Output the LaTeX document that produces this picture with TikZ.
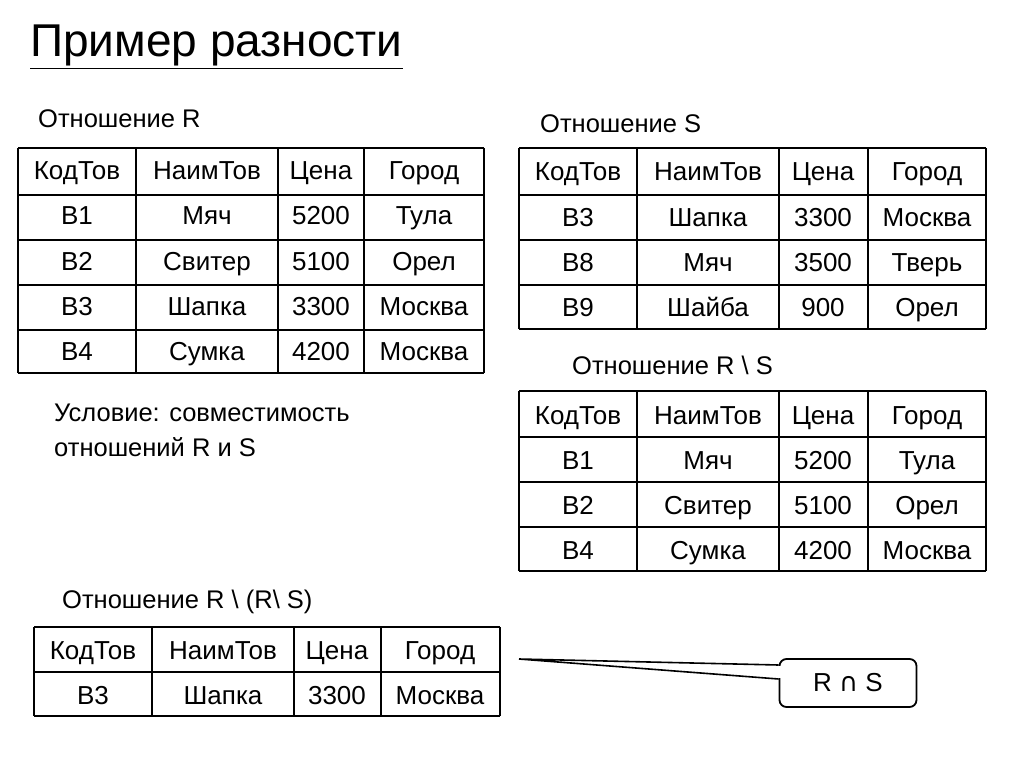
\documentclass[tikz,border=0pt]{standalone}
\usepackage{fontspec}
\setmainfont{Liberation Sans}
\newfontfamily\djv{DejaVu Sans}
\usetikzlibrary{calc}
\tikzset{cell/.style={font=\fontsize{26}{30}\selectfont,inner sep=0pt,anchor=base},
 lbl/.style={font=\fontsize{25.5}{30}\selectfont,inner sep=0pt,anchor=base west},
 grid/.style={line width=1.8pt}}
\begin{document}
\begin{tikzpicture}[x=1pt,y=-1pt]
\useasboundingbox (0,0) rectangle (1024,767);
\node[inner sep=0pt,anchor=base west,font=\fontsize{46}{50}\selectfont] (title) at (30,57) {\underline{Пример разности}};
\node[lbl] (lr) at (38,128) {Отношение R};
\node[lbl] (ls) at (540,133) {Отношение S};
\node[lbl] (lrs) at (572,374) {Отношение R \textbackslash\ S};
\node[lbl] (cond) at (54,421) {Условие: совместимость};
\node[lbl] (cond2) at (54,456) {отношений R и S};
\node[lbl] (lrr) at (62,608) {Отношение R \textbackslash\ (R\textbackslash\ S)};
% Table R
\foreach \y in {148,195,240,285,330,373} \draw[grid] (18,\y) -- (484,\y);
\foreach \x in {18,136,278,364,484} \draw[grid] (\x,148) -- (\x,373);
\foreach \t [count=\r] in {{КодТов/НаимТов/Цена/Город},{В1/Мяч/5200/Тула},{В2/Свитер/5100/Орел},{В3/Шапка/3300/Москва},{В4/Сумка/4200/Москва}}{
 \pgfmathsetmacro\yy{148+(\r-1)*45+32}
 \foreach \a/\b/\c/\d in \t {
  \node[cell] (r\r a) at (77,\yy) {\a}; \node[cell] (r\r b) at (207,\yy) {\b};
  \node[cell] (r\r c) at (321,\yy) {\c}; \node[cell] (r\r d) at (424,\yy) {\d};}}
% Table S
\foreach \y in {148,195,240,285,329} \draw[grid] (519,\y) -- (986,\y);
\foreach \x in {519,637,779,868,986} \draw[grid] (\x,148) -- (\x,329);
\foreach \t [count=\r] in {{КодТов/НаимТов/Цена/Город},{В3/Шапка/3300/Москва},{В8/Мяч/3500/Тверь},{В9/Шайба/900/Орел}}{
 \pgfmathsetmacro\yy{148+(\r-1)*45+33}
 \foreach \a/\b/\c/\d in \t {
  \node[cell] (s\r a) at (578,\yy) {\a}; \node[cell] (s\r b) at (708,\yy) {\b};
  \node[cell] (s\r c) at (823,\yy) {\c}; \node[cell] (s\r d) at (927,\yy) {\d};}}
% Table R\S
\foreach \y in {391,437,482,527,571} \draw[grid] (519,\y) -- (986,\y);
\foreach \x in {519,637,779,868,986} \draw[grid] (\x,391) -- (\x,571);
\foreach \t [count=\r] in {{КодТов/НаимТов/Цена/Город},{В1/Мяч/5200/Тула},{В2/Свитер/5100/Орел},{В4/Сумка/4200/Москва}}{
 \pgfmathsetmacro\yy{391+(\r-1)*45+33}
 \foreach \a/\b/\c/\d in \t {
  \node[cell] (d\r a) at (578,\yy) {\a}; \node[cell] (d\r b) at (708,\yy) {\b};
  \node[cell] (d\r c) at (823,\yy) {\c}; \node[cell] (d\r d) at (927,\yy) {\d};}}
% Table R\(R\S)
\foreach \y in {627,672,716} \draw[grid] (34,\y) -- (500,\y);
\foreach \x in {34,152,294,381,500} \draw[grid] (\x,627) -- (\x,716);
\foreach \t [count=\r] in {{КодТов/НаимТов/Цена/Город},{В3/Шапка/3300/Москва}}{
 \pgfmathsetmacro\yy{627+(\r-1)*45+32}
 \foreach \a/\b/\c/\d in \t {
  \node[cell] (i\r a) at (93,\yy) {\a}; \node[cell] (i\r b) at (223,\yy) {\b};
  \node[cell] (i\r c) at (337,\yy) {\c}; \node[cell] (i\r d) at (440,\yy) {\d};}}
% callout
\node[draw,line width=1.8pt,rounded corners=7pt,minimum width=137pt,minimum height=48pt,inner sep=0pt,
  font=\fontsize{26}{30}\selectfont] (rs) at (848,683) {R {\djv ∩} S};
\coordinate (tip) at (519,659);
\fill[white] ($(rs.west)+(-2,-17)$) rectangle ($(rs.west)+(2,-5)$);
\draw[line width=1.6pt,line join=miter] ($(rs.west)+(0,-18)$) -- (tip) -- ($(rs.west)+(0,-4)$);
\end{tikzpicture}
\end{document}
